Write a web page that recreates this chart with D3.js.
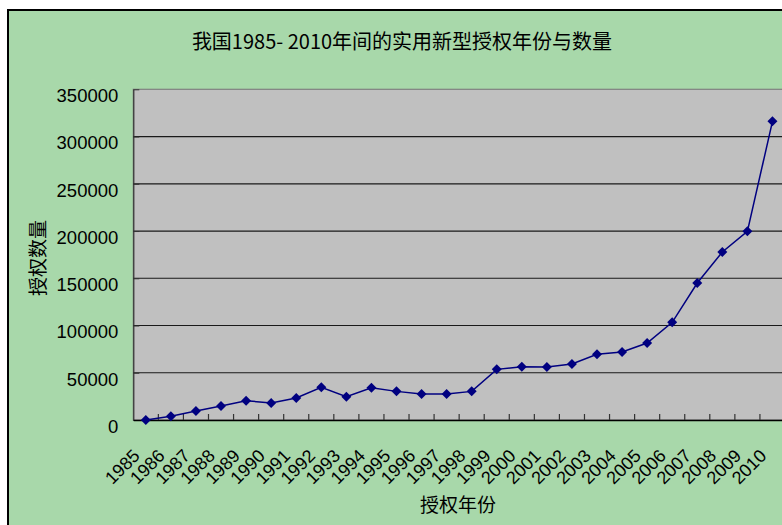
<!DOCTYPE html>
<html><head><meta charset="utf-8">
<script src="https://cdn.jsdelivr.net/npm/d3@7"></script>
<style>
html,body{margin:0;padding:0;background:#fff;}
svg{display:block;font-family:"Liberation Sans",Arial,"Noto Sans CJK SC",sans-serif;}
</style></head>
<body>
<svg id="chart" width="782" height="525"></svg>
<script>
const years = ["1985","1986","1987","1988","1989","1990","1991","1992","1993","1994","1995","1996","1997","1998","1999","2000","2001","2002","2003","2004","2005","2006","2007","2008","2009","2010"];
const grants = [0,3900,9500,14800,20400,18000,23300,34600,24700,34200,30300,27500,27500,30300,53600,56400,56100,59300,69500,72000,81500,103400,145000,177800,199700,316100];
const yTicks = [0,50000,100000,150000,200000,250000,300000,350000];
const titleText = "我国1985- 2010年间的实用新型授权年份与数量";
const yTitle = "授权数量";
const xTitle = "授权年份";

const svg = d3.select("#chart");
const W = 782, H = 525;
const plot = {left:133.3, top:89.3, right:785, bottom:420};

// chart background
svg.append("rect").attr("x",8).attr("y",10).attr("width",W).attr("height",H)
  .attr("fill","#a8d8aa").attr("stroke","#000").attr("stroke-width",2);

const x = d3.scaleBand().domain(years).range([plot.left, plot.right]).paddingInner(0).paddingOuter(0);
const y = d3.scaleLinear().domain([0,350000]).range([plot.bottom, plot.top]);

// plot area
svg.append("rect").attr("x",plot.left).attr("y",plot.top)
  .attr("width",plot.right-plot.left).attr("height",plot.bottom-plot.top)
  .attr("fill","#c0c0c0").attr("stroke","#808080").attr("stroke-width",1.2);

// gridlines
svg.append("g").selectAll("line").data(yTicks.filter(d=>d>0 && d<350000)).join("line")
  .attr("x1",plot.left).attr("x2",plot.right)
  .attr("y1",d=>y(d)).attr("y2",d=>y(d))
  .attr("stroke","#1a1a1a").attr("stroke-width",1.2);

// y axis
const yAxis = svg.append("g").attr("transform",`translate(${plot.left},0)`)
  .call(d3.axisLeft(y).tickValues(yTicks).tickSizeInner(-6).tickSizeOuter(0).tickPadding(15).tickFormat(d3.format("d")));
yAxis.select(".domain").attr("stroke","#333").attr("stroke-width",1.2);
yAxis.selectAll(".tick line").attr("stroke","#333");
yAxis.selectAll(".tick text").attr("font-size",18.5).attr("fill","#000")
  .attr("font-family",'"Liberation Sans",Arial,sans-serif').attr("transform","translate(0,6.5)");

// x axis
const xAxis = svg.append("g").attr("transform",`translate(0,${plot.bottom})`)
  .call(d3.axisBottom(x).tickSize(0).tickPadding(0));
xAxis.select(".domain").attr("stroke","#000").attr("stroke-width",1.5);
xAxis.selectAll(".tick text")
  .attr("font-size",18).attr("fill","#000")
  .attr("font-family",'"Liberation Sans",Arial,sans-serif')
  .attr("text-anchor","end").attr("dy",null).attr("y",0)
  .attr("transform","translate(-5,37) rotate(-45)");
// category boundary ticks
svg.append("g").selectAll("line").data(years.slice(1)).join("line")
  .attr("x1",d=>x(d)).attr("x2",d=>x(d))
  .attr("y1",plot.bottom).attr("y2",plot.bottom-6)
  .attr("stroke","#333").attr("stroke-width",1.2);

// line
const line = d3.line().x((d,i)=>x(years[i])+x.bandwidth()/2).y(d=>y(d));
svg.append("path").datum(grants).attr("d",line)
  .attr("fill","none").attr("stroke","#000080").attr("stroke-width",1.5);
svg.append("g").selectAll("path").data(grants).join("path")
  .attr("transform",(d,i)=>`translate(${x(years[i])+x.bandwidth()/2},${y(d)})`)
  .attr("d","M0,-5L5,0L0,5L-5,0Z").attr("fill","#000080");

// titles
svg.append("text").attr("x",402).attr("y",49).attr("text-anchor","middle")
  .attr("font-family",'"Noto Sans CJK SC",sans-serif').attr("font-size",20)
  .attr("fill","#000").text(titleText);
svg.append("text").attr("transform","translate(45,258) rotate(-90)").attr("text-anchor","middle")
  .attr("font-family",'"Noto Sans CJK SC",sans-serif').attr("font-size",19)
  .attr("fill","#000").text(yTitle);
svg.append("text").attr("x",458).attr("y",512).attr("text-anchor","middle")
  .attr("font-family",'"Noto Sans CJK SC",sans-serif').attr("font-size",19)
  .attr("fill","#000").text(xTitle);
</script>
</body></html>
